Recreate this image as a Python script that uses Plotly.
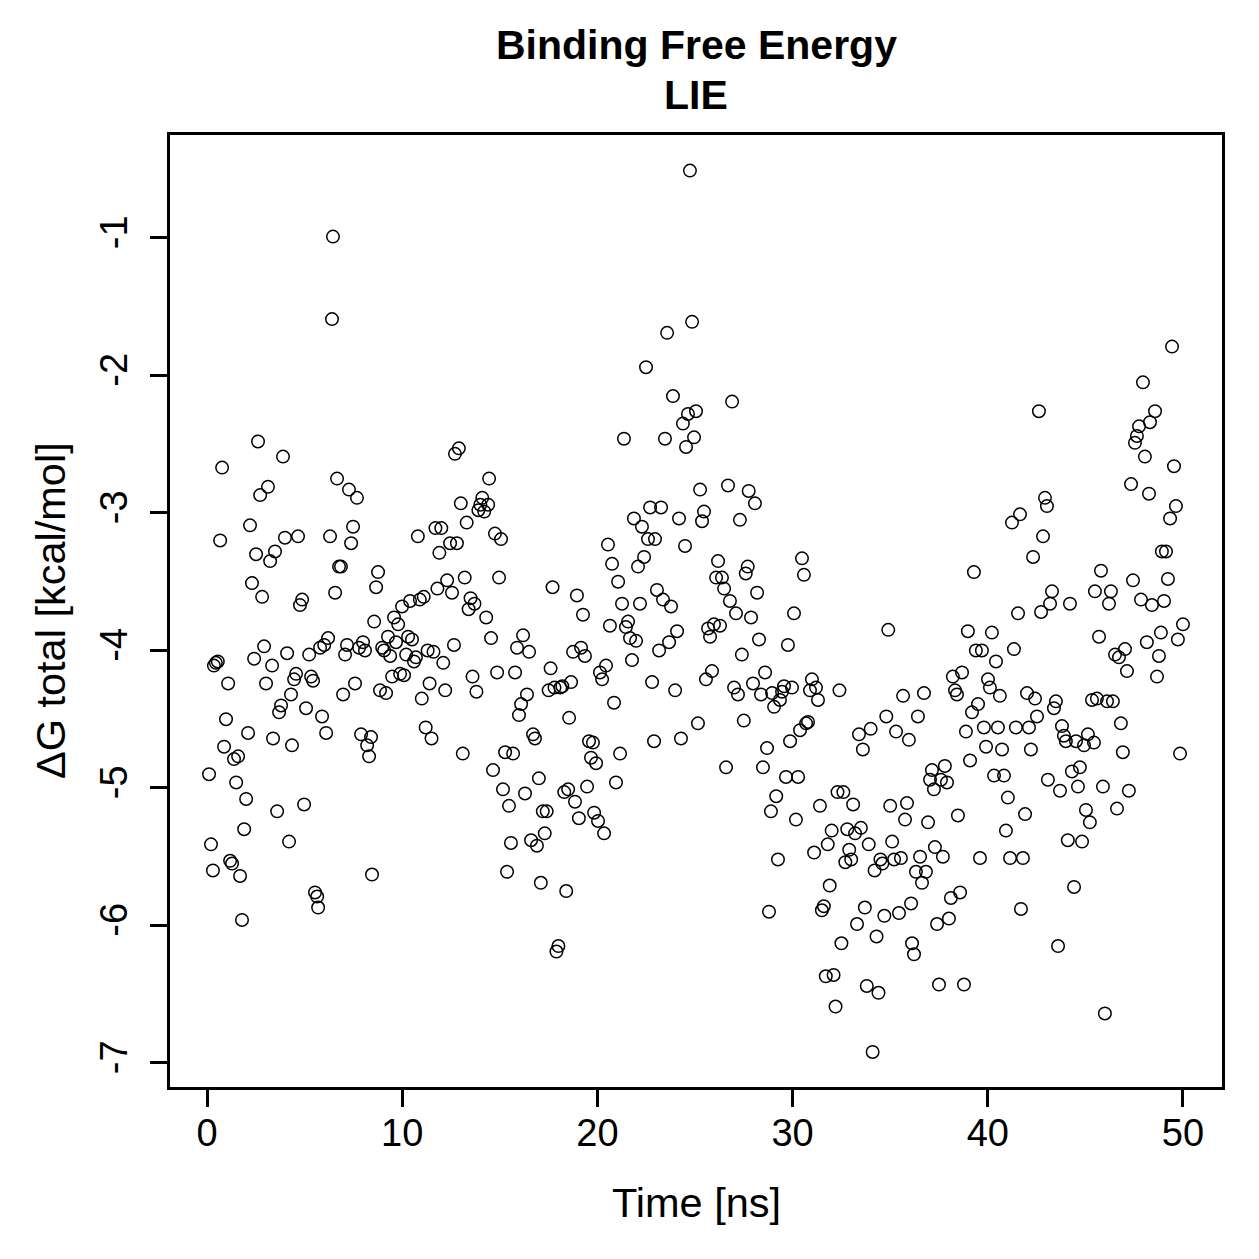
import plotly.graph_objects as go

# Time [ns]
time_ns = [
    0.1, 0.2, 0.3, 0.35, 0.45, 0.55, 0.67, 0.77, 0.87, 0.97, 1.08, 1.18, 1.28, 1.38, 1.49, 1.59, 1.69, 1.79, 1.9, 2.0,
    2.1, 2.2, 2.3, 2.41, 2.51, 2.61, 2.72, 2.82, 2.92, 3.02, 3.12, 3.23, 3.33, 3.38, 3.48, 3.59, 3.69, 3.79, 3.89, 3.99,
    4.1, 4.2, 4.3, 4.35, 4.46, 4.56, 4.66, 4.76, 4.87, 4.97, 5.07, 5.23, 5.33, 5.43, 5.53, 5.64, 5.69, 5.79, 5.89, 6.0,
    6.1, 6.2, 6.3, 6.4, 6.45, 6.56, 6.66, 6.76, 6.86, 6.97, 7.07, 7.17, 7.27, 7.38, 7.48, 7.58, 7.68, 7.79, 7.89, 7.99,
    8.09, 8.2, 8.3, 8.4, 8.45, 8.56, 8.66, 8.76, 8.86, 8.97, 9.07, 9.17, 9.27, 9.38, 9.48, 9.58, 9.68, 9.79, 9.89, 9.99,
    10.09, 10.2, 10.3, 10.4, 10.5, 10.6, 10.7, 10.8, 10.9, 11.0, 11.1, 11.2, 11.3, 11.4, 11.5, 11.6, 11.7, 11.8, 11.9, 12.0,
    12.1, 12.2, 12.3, 12.45, 12.55, 12.65, 12.7, 12.8, 12.9, 13.0, 13.1, 13.2, 13.3, 13.4, 13.5, 13.6, 13.7, 13.8, 13.9, 14.0,
    14.1, 14.2, 14.3, 14.4, 14.45, 14.55, 14.65, 14.75, 14.86, 14.96, 15.06, 15.16, 15.27, 15.37, 15.47, 15.57, 15.68, 15.78, 15.88, 15.98,
    16.09, 16.19, 16.29, 16.39, 16.5, 16.6, 16.7, 16.8, 16.9, 17.0, 17.1, 17.2, 17.3, 17.4, 17.5, 17.6, 17.7, 17.8, 17.9, 18.0,
    18.1, 18.2, 18.3, 18.4, 18.5, 18.55, 18.65, 18.75, 18.85, 18.95, 19.05, 19.16, 19.26, 19.36, 19.47, 19.57, 19.67, 19.77, 19.83, 19.93,
    20.03, 20.13, 20.24, 20.34, 20.44, 20.54, 20.64, 20.75, 20.85, 20.95, 21.06, 21.16, 21.26, 21.36, 21.46, 21.57, 21.67, 21.77, 21.87, 21.98,
    22.08, 22.18, 22.28, 22.39, 22.49, 22.59, 22.7, 22.8, 22.9, 22.95, 23.05, 23.16, 23.26, 23.36, 23.46, 23.57, 23.67, 23.77, 23.87, 23.98,
    24.08, 24.18, 24.28, 24.38, 24.49, 24.54, 24.64, 24.74, 24.85, 24.95, 25.05, 25.15, 25.26, 25.36, 25.46, 25.56, 25.67, 25.77, 25.87, 25.97,
    26.08, 26.18, 26.28, 26.38, 26.49, 26.59, 26.69, 26.79, 26.9, 27.0, 27.1, 27.2, 27.3, 27.4, 27.5, 27.6, 27.7, 27.75, 27.87, 27.97,
    28.07, 28.18, 28.28, 28.38, 28.48, 28.59, 28.69, 28.79, 28.89, 28.95, 29.05, 29.16, 29.25, 29.35, 29.46, 29.56, 29.66, 29.76, 29.87, 29.97,
    30.07, 30.17, 30.28, 30.38, 30.48, 30.58, 30.69, 30.79, 30.89, 30.99, 31.1, 31.2, 31.3, 31.4, 31.5, 31.6, 31.7, 31.8, 31.9, 32.0,
    32.1, 32.2, 32.3, 32.4, 32.5, 32.6, 32.7, 32.8, 32.9, 33.0, 33.1, 33.2, 33.3, 33.4, 33.5, 33.6, 33.7, 33.8, 33.9, 34.0,
    34.1, 34.2, 34.3, 34.4, 34.5, 34.6, 34.7, 34.8, 34.9, 35.0, 35.1, 35.2, 35.3, 35.45, 35.55, 35.66, 35.76, 35.86, 35.96, 36.07,
    36.12, 36.22, 36.32, 36.42, 36.53, 36.63, 36.73, 36.83, 36.94, 37.04, 37.14, 37.24, 37.29, 37.4, 37.5, 37.6, 37.7, 37.8, 37.91, 38.01,
    38.11, 38.21, 38.32, 38.42, 38.47, 38.58, 38.68, 38.78, 38.88, 38.98, 39.09, 39.19, 39.29, 39.39, 39.5, 39.6, 39.7, 39.8, 39.91, 40.01,
    40.11, 40.21, 40.32, 40.42, 40.52, 40.62, 40.73, 40.83, 40.93, 41.03, 41.14, 41.24, 41.34, 41.44, 41.55, 41.65, 41.7, 41.8, 41.91, 42.01,
    42.11, 42.21, 42.32, 42.42, 42.52, 42.62, 42.73, 42.83, 42.93, 43.03, 43.08, 43.19, 43.29, 43.39, 43.49, 43.6, 43.7, 43.8, 43.9, 44.0,
    44.1, 44.21, 44.31, 44.42, 44.52, 44.62, 44.72, 44.83, 44.93, 45.03, 45.13, 45.23, 45.34, 45.44, 45.49, 45.59, 45.7, 45.8, 45.9, 46.0,
    46.11, 46.21, 46.31, 46.41, 46.52, 46.62, 46.72, 46.82, 46.92, 47.03, 47.13, 47.23, 47.34, 47.44, 47.54, 47.64, 47.75, 47.85, 47.95, 48.05,
    48.15, 48.26, 48.31, 48.41, 48.57, 48.67, 48.77, 48.87, 48.92, 49.03, 49.13, 49.23, 49.34, 49.44, 49.54, 49.64, 49.74, 49.85, 50.0,
]

# Delta G total [kcal/mol]
dg_total = [
    -4.90, -5.41, -5.60, -4.11, -4.09, -4.08, -3.20, -2.67, -4.70, -4.50, -4.24, -5.53, -5.55, -4.79, -4.96, -4.77, -5.64, -5.96, -5.30, -5.08,
    -4.60, -3.09, -3.51, -4.06, -3.30, -2.48, -2.87, -3.61, -3.97, -4.24, -2.81, -3.35, -4.11, -4.64, -3.28, -5.17, -4.45, -4.40, -2.59, -3.18,
    -4.02, -5.39, -4.32, -4.69, -4.21, -4.17, -3.17, -3.67, -3.63, -5.12, -4.42, -4.03, -4.19, -4.22, -5.76, -5.79, -5.87, -3.98, -4.48, -3.96,
    -4.60, -3.91, -3.17, -1.59, -0.99, -3.58, -2.75, -3.39, -3.39, -4.32, -4.03, -3.96, -2.83, -3.22, -3.10, -4.24, -2.89, -3.98, -4.61, -3.94,
    -4.00, -4.69, -4.77, -4.63, -5.63, -3.79, -3.54, -3.43, -4.29, -3.98, -4.00, -4.31, -3.90, -4.04, -4.19, -3.76, -3.94, -3.81, -4.17, -3.68,
    -4.18, -4.03, -3.90, -3.64, -3.92, -4.08, -4.05, -3.17, -3.63, -4.35, -3.61, -4.56, -4.00, -4.24, -4.64, -4.01, -3.11, -3.55, -3.29, -3.11,
    -4.09, -4.29, -3.49, -3.22, -3.58, -3.96, -2.57, -3.22, -2.53, -2.93, -4.75, -3.47, -3.07, -3.70, -3.62, -4.19, -3.66, -4.30, -2.98, -2.94,
    -2.89, -2.99, -3.76, -2.94, -2.75, -3.91, -4.87, -3.15, -4.16, -3.47, -3.19, -5.01, -4.74, -5.61, -5.13, -5.40, -4.75, -4.16, -3.98, -4.47,
    -4.39, -3.89, -5.04, -4.32, -4.01, -5.38, -4.61, -4.64, -5.42, -4.93, -5.69, -5.17, -5.33, -5.17, -4.29, -4.13, -3.54, -4.27, -6.19, -6.15,
    -4.27, -4.26, -5.03, -5.75, -5.01, -4.49, -4.23, -4.01, -5.10, -3.60, -5.22, -3.98, -3.74, -4.04, -4.99, -4.66, -4.78, -4.67, -5.18, -4.82,
    -5.24, -4.16, -4.21, -5.33, -4.11, -3.23, -3.82, -3.37, -4.38, -4.96, -3.50, -4.75, -3.66, -2.46, -3.83, -3.79, -3.91, -4.07, -3.04, -3.93,
    -3.39, -3.66, -3.10, -3.32, -1.94, -3.19, -2.96, -4.23, -4.66, -3.19, -3.56, -4.00, -2.96, -3.63, -2.46, -1.69, -3.94, -3.68, -2.15, -4.29,
    -3.86, -3.04, -4.64, -2.35, -3.24, -2.52, -2.28, -0.51, -1.61, -2.45, -2.26, -4.53, -2.83, -3.06, -2.99, -4.21, -3.84, -3.90, -4.15, -3.81,
    -3.47, -3.35, -3.82, -3.47, -3.55, -4.85, -2.80, -3.64, -2.19, -4.27, -3.73, -4.32, -3.05, -4.03, -4.51, -3.44, -3.39, -2.84, -3.76, -4.24,
    -2.93, -3.58, -3.92, -4.32, -4.85, -4.16, -4.71, -5.90, -5.17, -4.31, -4.41, -5.06, -5.52, -4.36, -4.30, -4.26, -4.92, -3.96, -4.66, -4.27,
    -3.73, -5.23, -4.92, -4.58, -3.33, -3.45, -4.53, -4.52, -4.29, -4.21, -5.47, -4.27, -4.36, -5.13, -5.89, -5.86, -6.37, -5.41, -5.71, -5.31,
    -6.36, -6.59, -5.03, -4.29, -6.13, -5.03, -5.54, -5.30, -5.45, -5.52, -5.12, -5.33, -5.99, -4.61, -5.29, -4.72, -5.87, -6.44, -5.41, -4.57,
    -6.92, -5.60, -6.08, -6.49, -5.52, -5.55, -5.93, -4.48, -3.85, -5.13, -5.39, -5.52, -4.59, -5.91, -5.51, -4.33, -5.23, -5.11, -4.65, -5.84,
    -6.13, -6.21, -5.61, -4.48, -5.50, -5.69, -4.31, -5.61, -5.25, -4.94, -4.87, -5.01, -5.43, -5.99, -6.43, -4.94, -5.50, -4.84, -4.96, -5.95,
    -5.80, -4.19, -4.29, -4.32, -5.20, -5.76, -4.16, -6.43, -4.59, -3.86, -4.80, -4.45, -3.43, -4.00, -4.39, -5.51, -4.00, -4.56, -4.70, -4.21,
    -4.27, -3.87, -4.91, -4.08, -4.56, -4.33, -4.72, -4.91, -5.31, -5.07, -5.51, -3.07, -3.99, -4.56, -3.73, -3.01, -5.88, -5.51, -5.19, -4.31,
    -4.56, -4.72, -3.32, -4.35, -4.48, -2.26, -3.72, -3.17, -2.89, -2.95, -4.94, -3.66, -3.57, -4.42, -4.37, -6.15, -5.02, -4.55, -4.62, -4.66,
    -5.38, -3.66, -4.88, -5.72, -4.66, -4.99, -4.85, -5.39, -4.69, -5.16, -4.61, -5.25, -4.36, -4.67, -3.57, -4.35, -3.90, -3.42, -4.99, -6.64,
    -4.37, -3.66, -3.57, -4.37, -4.03, -5.15, -4.05, -4.53, -4.74, -3.99, -4.15, -5.02, -2.79, -3.49, -2.49, -2.44, -2.37, -3.63, -2.05, -2.59,
    -3.94, -2.86, -2.34, -3.67, -2.26, -4.19, -4.04, -3.87, -3.28, -3.64, -3.28, -3.48, -3.04, -1.79, -2.66, -2.95, -3.92, -4.75, -3.81,
]

x_ticks = [0, 10, 20, 30, 40, 50]
y_ticks = [-7, -6, -5, -4, -3, -2, -1]

FONT = "Liberation Sans, Arial, Helvetica, sans-serif"

fig = go.Figure()
fig.add_trace(go.Scatter(
    x=time_ns, y=dg_total, mode="markers",
    marker=dict(symbol="circle-open", size=12.5, color="black", line=dict(width=1.5, color="black")),
    showlegend=False, hoverinfo="x+y",
))

axis_common = dict(
    showgrid=False, zeroline=False, showline=True, mirror=True,
    linecolor="black", linewidth=2.5,
    ticks="outside", ticklen=17, tickwidth=2.5, tickcolor="black",
    tickfont=dict(family=FONT, size=38, color="black"),
)

fig.update_layout(
    width=1259, height=1259,
    margin=dict(l=170, r=37, t=135, b=172, autoexpand=False),
    paper_bgcolor="white", plot_bgcolor="white",
    xaxis=dict(range=[-1.9, 52.0], tickmode="array", tickvals=x_ticks,
               ticktext=[str(v) for v in x_ticks], ticklabelstandoff=-6, **axis_common),
    yaxis=dict(range=[-7.175, -0.251], tickmode="array", tickvals=y_ticks,
               ticktext=[str(v) for v in y_ticks], tickangle=-90, ticklabelstandoff=8, **axis_common),
    annotations=[
        dict(text="<b>Binding Free Energy</b>", x=0.5, y=1.0945, xref="paper", yref="paper",
             showarrow=False, xanchor="center", yanchor="middle",
             font=dict(family=FONT, size=41, color="black")),
        dict(text="<b>LIE</b>", x=0.5, y=1.042, xref="paper", yref="paper",
             showarrow=False, xanchor="center", yanchor="middle",
             font=dict(family=FONT, size=41, color="black")),
        dict(text="Time [ns]", x=0.5, y=-0.1218, xref="paper", yref="paper",
             showarrow=False, xanchor="center", yanchor="middle",
             font=dict(family=FONT, size=41.5, color="black")),
        dict(text="ΔG total [kcal/mol]", x=-0.114, y=0.5, xref="paper", yref="paper",
             showarrow=False, xanchor="center", yanchor="middle", textangle=-90,
             font=dict(family=FONT, size=41.5, color="black")),
    ],
)

fig.write_html("out.html")
